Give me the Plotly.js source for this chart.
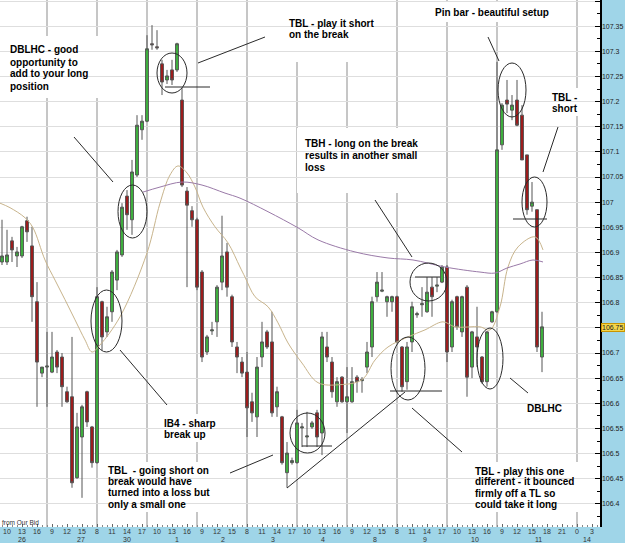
<!DOCTYPE html>
<html><head><meta charset="utf-8">
<script src="https://cdn.plot.ly/plotly-3.0.1.min.js"></script>
<style>html,body{margin:0;padding:0;background:#9fd5e8;}#chart{width:625px;height:543px;}</style>
</head><body><div id="chart"></div>
<script>
// ---- OHLC data (hourly bars) ----
const openP = [106.881,106.881,106.923,106.893,106.893,106.963,106.913,106.802,106.660,106.672,
106.662,106.702,106.692,106.623,106.613,106.452,106.533,106.623,106.553,106.482,
106.802,106.742,106.782,106.845,106.895,107.012,106.965,107.054,107.144,107.161,
107.315,107.309,107.275,107.243,107.263,107.263,107.203,107.022,106.983,106.965,
106.861,106.702,106.744,106.762,106.841,106.901,106.812,106.712,106.682,106.662,
106.603,106.573,106.692,106.742,106.722,106.593,106.573,106.462,106.482,106.482,
106.551,106.533,106.553,106.581,106.541,106.712,106.682,106.603,106.652,106.603,
106.603,106.652,106.645,106.672,106.712,106.812,106.823,106.802,106.802,106.812,
106.712,106.643,106.722,106.776,106.796,106.782,106.831,106.833,106.841,106.871,
106.712,106.812,106.742,106.831,106.672,106.732,106.692,106.643,106.762,106.782,
107.114,107.203,107.183,107.203,107.173,107.094,106.992,106.985,106.692];
const highP = [106.965,106.945,106.931,106.911,106.953,106.971,106.951,106.841,106.672,106.742,
106.742,106.706,106.700,106.633,106.732,106.581,106.597,106.625,106.555,106.831,
106.804,106.792,106.865,106.905,106.998,107.024,107.084,107.173,107.173,107.332,
107.352,107.342,107.283,107.263,107.283,107.317,107.227,107.030,106.992,106.969,
106.865,106.736,106.762,106.835,106.973,106.919,106.816,106.722,106.692,106.702,
106.621,106.692,106.762,106.746,106.782,106.633,106.575,106.523,106.492,106.587,
106.561,106.583,106.565,106.587,106.742,106.742,106.692,106.652,106.654,106.672,
106.672,106.656,106.652,106.722,106.812,106.861,106.861,106.814,106.814,106.814,
106.714,106.722,106.802,106.782,106.831,106.851,106.851,106.851,106.875,106.875,
106.806,106.814,106.814,106.835,106.744,106.792,106.694,106.744,106.784,107.279,
107.197,107.243,107.213,107.243,107.193,107.094,107.040,106.985,106.782];
const lowP = [106.875,106.875,106.881,106.871,106.889,106.921,106.762,106.593,106.652,106.593,
106.660,106.660,106.593,106.601,106.432,106.450,106.412,106.553,106.472,106.480,
106.706,106.732,106.762,106.825,106.891,106.945,106.935,107.050,107.124,107.159,
107.303,107.303,107.213,107.235,107.233,107.259,107.030,106.831,106.951,106.825,
106.682,106.696,106.736,106.732,106.825,106.812,106.712,106.660,106.652,106.533,
106.563,106.533,106.672,106.708,106.573,106.573,106.478,106.432,106.478,106.480,
106.513,106.513,106.549,106.513,106.497,106.682,106.611,106.593,106.601,106.541,
106.601,106.621,106.621,106.660,106.692,106.802,106.821,106.772,106.782,106.720,
106.623,106.627,106.702,106.770,106.772,106.780,106.772,106.821,106.839,106.682,
106.702,106.746,106.732,106.613,106.650,106.672,106.639,106.633,106.760,106.780,
107.104,107.177,107.163,107.151,107.084,106.975,106.981,106.702,106.662];
const closeP = [106.893,106.895,106.905,106.901,106.951,106.941,106.812,106.682,106.672,106.674,
106.692,106.672,106.633,106.603,106.442,106.553,106.593,106.563,106.482,106.812,
106.732,106.772,106.861,106.901,106.990,106.975,107.060,107.153,107.161,107.305,
107.313,107.307,107.239,107.251,107.243,107.315,107.034,106.994,106.965,106.831,
106.692,106.732,106.746,106.831,106.893,106.831,106.722,106.692,106.660,106.591,
106.581,106.672,106.722,106.712,106.581,106.623,106.482,106.501,106.486,106.561,
106.553,106.535,106.561,106.533,106.732,106.692,106.623,106.643,106.603,106.613,
106.643,106.643,106.647,106.702,106.802,106.841,106.825,106.812,106.812,106.722,
106.633,106.712,106.792,106.778,106.798,106.821,106.812,106.835,106.871,106.702,
106.802,106.752,106.812,106.652,106.742,106.712,106.643,106.742,106.782,107.104,
107.193,107.195,107.193,107.153,107.084,106.985,107.000,106.712,106.752];

// moving averages (bar position, price)
const maFastBar = [-0.4,1.6,4.6,6.2,8.6,10.6,12.6,14.6,16.6,18,19.6,23.6,29,31.6,33.6,35.2,37,38.6,40.2,42.6,45.2,47.6,48.6,50.6,53.2,55.2,57.2,60,63.2,67.6,72,74.6,77.2,81.2,84.6,88.2,90.6,95.6,97.6,99.6,101.2,103.2,106.6,108.2];
const maFastVal = [106.998,106.989,106.969,106.949,106.885,106.845,106.806,106.766,106.726,106.702,106.716,106.772,106.899,106.998,107.054,107.072,107.058,107.030,106.990,106.951,106.919,106.871,106.851,106.812,106.792,106.760,106.720,106.680,106.641,106.637,106.647,106.686,106.712,106.732,106.746,106.762,106.752,106.752,106.746,106.792,106.871,106.911,106.931,106.905];
const maSlowBar = [28.2,31.6,36,40,44.6,47.6,53.2,59.2,63.2,70.6,77.2,82.2,88.6,95.6,98.6,101,103.6,106.2,108.2];
const maSlowVal = [107.020,107.030,107.040,107.034,107.018,107.008,106.981,106.949,106.925,106.901,106.889,106.885,106.871,106.861,106.859,106.869,106.877,106.885,106.881];

// axis labels
const hourLabels = ["10","13","16","9","12","15","8","11","14","17","10","13","16","9","12","15","8","11","14","17",
"10","13","16","9","12","15","8","11","14","17","10","13","16","9","12","15","18","21","0","3"];
const dateLabels = ["26","27","30","1","2","3","4","8","9","10","11","14"];
const dateLabelBar = [4,15.8,25,35,44.2,54.2,64.2,74.6,84.6,94.6,107.2,117];
const sessionStartBar = [9,19,29,39,49,59,69,79,89,99,115];
const lastPrice = 106.75;

const bars = openP.map((_, i) => i);
const hourTickBar = hourLabels.map((_, k) => 1 + 3 * k);

// layout geometry (plot area 600 x 527 px)
const PW = 600, PH = 527;
const px = x => x / PW, py = y => 1 - y / PH;

const FONT = 'Liberation Sans, Arial, sans-serif';
const textBlocks = [
  {x: 8, y: 50, dy: 12, lines: ["DBLHC - good", "opportunity to", "add to your long", "position"]},
  {x: 287, y: 23, dy: 11.5, lines: ["TBL - play it short", "on the break"]},
  {x: 433, y: 12, dy: 12, lines: ["Pin bar - beautiful setup"]},
  {x: 550, y: 97, dy: 11.5, lines: ["TBL -", "short"]},
  {x: 303, y: 143, dy: 12, lines: ["TBH - long on the break", "results in another small", "loss"]},
  {x: 162, y: 423, dy: 11.5, lines: ["IB4 - sharp", "break up"]},
  {x: 106, y: 470, dy: 11.4, lines: ["TBL  - going short on", "break would have", "turned into a loss but", "only a small one"]},
  {x: 525, y: 408, dy: 12, lines: ["DBLHC"]},
  {x: 473, y: 471, dy: 11, lines: ["TBL - play this one", "different - it bounced", "firmly off a TL so", "could take it long"]}
];
const whiteBoxes = [[0,36,112,98],[283,0,380,62],[428,2,572,22],[546,88,590,116],[297,128,420,193],[156,414,232,442],[100,462,240,512],[520,400,562,416],[468,462,592,512]];
const calloutLines = [[74,137,113,182],[198,63,265,37],[488,37,499,61],[558,127,543,172],[375,200,412,257],[120,350,167,405],[230,473,273,455],[412,408,462,452],[510,378,528,393],[287,488,405,392],[165,87,210,87],[302,446,332,446],[390,391,442,391],[415,277,440,277],[513,219,547,219]];
const ellipses = [[91,290,122,352],[118,185,147,238],[157,53,187,93],[290,413,325,453],[410,263,447,301],[391,337,425,400],[477,328,503,389],[498,63,526,117],[522,177,547,227]];

const shapes = [];
sessionStartBar.forEach(b => shapes.push({type:'line', xref:'x', yref:'paper', x0:b, x1:b, y0:0, y1:1, layer:'below', line:{color:'#a8a8a8', width:1.3}}));
whiteBoxes.forEach(r => shapes.push({type:'rect', xref:'paper', yref:'paper', x0:px(r[0]), x1:px(r[2]), y0:py(r[3]), y1:py(r[1]), layer:'below', fillcolor:'#ffffff', line:{width:0}}));
calloutLines.forEach(l => shapes.push({type:'line', xref:'paper', yref:'paper', x0:px(l[0]), y0:py(l[1]), x1:px(l[2]), y1:py(l[3]), line:{color:'#2a2a2a', width:1}}));
ellipses.forEach(e => shapes.push({type:'circle', xref:'paper', yref:'paper', x0:px(e[0]), x1:px(e[2]), y0:py(e[3]), y1:py(e[1]), line:{color:'#2a2a2a', width:1}}));

const annotations = [];
textBlocks.forEach(b => b.lines.forEach((t, k) => annotations.push({
  xref:'paper', yref:'paper', x:px(b.x), y:py(b.y + k * b.dy), xanchor:'left', yanchor:'middle',
  text:'<b>' + t + '</b>', showarrow:false, font:{family:FONT, size:10, color:'#000'}
})));
dateLabels.forEach((d, k) => annotations.push({xref:'x', yref:'paper', x:dateLabelBar[k], y:-12.5/PH, yanchor:'middle', xanchor:'center', text:d, showarrow:false, font:{family:FONT, size:7, color:'#333'}}));
annotations.push({xref:'paper', yref:'paper', x:0, y:py(522), xanchor:'left', yanchor:'middle', text:'from Our Bid', showarrow:false, font:{family:FONT, size:6.5, color:'#333'}});
annotations.push({xref:'paper', yref:'y', x:1, y:lastPrice, xanchor:'left', yanchor:'middle', xshift:1, text:'106.75', showarrow:false, bgcolor:'#f4d64a', bordercolor:'#c89400', borderwidth:1, borderpad:0, font:{family:FONT, size:7, color:'#222'}});

const traces = [
  {type:'scatter', mode:'lines', x:maFastBar, y:maFastVal, line:{color:'#c8b48c', width:1, shape:'spline'}, hoverinfo:'skip'},
  {type:'scatter', mode:'lines', x:maSlowBar, y:maSlowVal, line:{color:'#9a7aa8', width:1, shape:'spline'}, hoverinfo:'skip'},
  {type:'candlestick', x:bars, open:openP, high:highP, low:lowP, close:closeP,
   increasing:{line:{color:'#555555', width:1}, fillcolor:'#3db43d'},
   decreasing:{line:{color:'#555555', width:1}, fillcolor:'#a01a1a'}, whiskerwidth:0}
];

const layout = {
  width:625, height:543, showlegend:false,
  margin:{l:0, r:25, t:0, b:16, pad:0},
  paper_bgcolor:'#9fd5e8', plot_bgcolor:'#ffffff',
  boxgap:0.18,
  xaxis:{type:'linear', range:[-0.4, 119.6], rangeslider:{visible:false}, showgrid:false, zeroline:false,
    tickmode:'array', tickvals:hourTickBar, ticktext:hourLabels, ticks:'inside', ticklen:3, tickcolor:'#666',
    ticklabelstandoff:-1,
    tickfont:{family:FONT, size:7, color:'#333'},
    minor:{tickmode:'linear', tick0:0, dtick:1, ticks:'inside', ticklen:2, tickcolor:'#888'}},
  yaxis:{side:'right', range:[106.354, 107.402], tick0:106.4, dtick:0.05, tickformat:'.2~f',
    showgrid:true, gridcolor:'#dedede', gridwidth:1, zeroline:false,
    showline:true, linecolor:'#000', linewidth:1.5, ticks:'inside', ticklen:5, tickcolor:'#000',
    ticklabelstandoff:-1,
    tickfont:{family:FONT, size:7, color:'#222'},
    minor:{tick0:106.4, dtick:0.025, ticks:'inside', ticklen:3, tickcolor:'#000'}},
  shapes:shapes, annotations:annotations
};
Plotly.newPlot('chart', traces, layout, {displayModeBar:false, staticPlot:true});
</script></body></html>
